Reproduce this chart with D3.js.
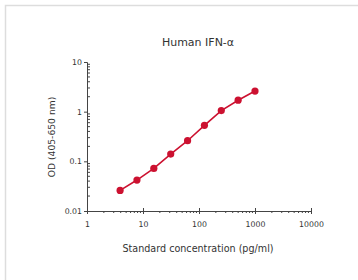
<!DOCTYPE html>
<html>
<head>
<meta charset="utf-8">
<script src="https://cdn.jsdelivr.net/npm/d3@7"></script>
<style>
  body { margin: 0; background: #fff; }
  svg text { font-family: "DejaVu Sans", Verdana, sans-serif; fill: #333; }
</style>
</head>
<body>
<div id="chart"></div>
<script>
// Standard curve data
const concentrations = [3.9, 7.8, 15.6, 31.25, 62.5, 125, 250, 500, 1000];
const odValues = [0.026, 0.042, 0.072, 0.14, 0.26, 0.53, 1.05, 1.7, 2.6];
const xTickValues = [1, 10, 100, 1000, 10000];
const yTickValues = [0.01, 0.1, 1, 10];
const yTickLabels = ['0.01', '0.1', '1', '10'];

const width = 358, height = 280;
const margin = { left: 87, right: 47, top: 62, bottom: 69 };

const svg = d3.select('#chart')
    .append('svg')
    .attr('width', width)
    .attr('height', height);

// Light frame round the picture
svg.append('rect')
    .attr('x', 5.5).attr('y', 5.5)
    .attr('width', width - 2).attr('height', height - 4)
    .attr('fill', 'none')
    .attr('stroke', '#ddd')
    .attr('stroke-width', 1.5);

const x = d3.scaleLog().domain([1, 10000]).range([margin.left, width - margin.right]);
const y = d3.scaleLog().domain([0.01, 10]).range([height - margin.bottom, margin.top]);

const axisColor = '#444';

// Minor ticks
const xMinor = [];
for (let d = 1; d < 10000; d *= 10)
    for (let k = 2; k <= 9; k++) xMinor.push(d * k);
const yMinor = [];
for (let d = 0.01; d < 9; d *= 10)
    for (let k = 2; k <= 9; k++) yMinor.push(d * k);

// X axis
const xAxis = svg.append('g')
    .attr('transform', `translate(0,${y(0.01)})`)
    .call(d3.axisBottom(x).tickValues(xTickValues).tickFormat(d3.format('d')).tickSize(3).tickPadding(7));
xAxis.selectAll('.tick line').attr('y1', -3);
xAxis.selectAll('g.minor')
    .data(xMinor)
    .enter()
    .append('line')
    .attr('x1', d => x(d)).attr('x2', d => x(d))
    .attr('y1', 0).attr('y2', 2)
    .attr('stroke', axisColor);

// Y axis
const yAxis = svg.append('g')
    .attr('transform', `translate(${x(1)},0)`)
    .call(d3.axisLeft(y).tickValues(yTickValues).tickFormat((d, i) => yTickLabels[i]).tickSize(3).tickPadding(2));
yAxis.selectAll('g.minor')
    .data(yMinor)
    .enter()
    .append('line')
    .attr('y1', d => y(d)).attr('y2', d => y(d))
    .attr('x1', 0).attr('x2', 3)
    .attr('stroke', axisColor);

[xAxis, yAxis].forEach(a => {
    a.select('.domain').attr('stroke', axisColor);
    a.selectAll('.tick line').attr('stroke', axisColor);
    a.selectAll('text').attr('font-size', 7.8).style('fill', '#333');
});

// Curve
const line = d3.line()
    .x((d, i) => x(concentrations[i]))
    .y(d => y(d));

svg.append('path')
    .datum(odValues)
    .attr('d', line)
    .attr('fill', 'none')
    .attr('stroke', '#cc1130')
    .attr('stroke-width', 1.6);

svg.append('g')
    .selectAll('circle')
    .data(odValues)
    .enter()
    .append('circle')
    .attr('cx', (d, i) => x(concentrations[i]))
    .attr('cy', d => y(d))
    .attr('r', 3.6)
    .attr('fill', '#cc1130');

// Titles
svg.append('text')
    .attr('x', 198).attr('y', 46)
    .attr('text-anchor', 'middle')
    .attr('font-size', 11)
    .text('Human IFN-α');

svg.append('text')
    .attr('x', 198).attr('y', 252)
    .attr('text-anchor', 'middle')
    .attr('font-size', 9.6)
    .text('Standard concentration (pg/ml)');

svg.append('text')
    .attr('transform', 'translate(55,137) rotate(-90)')
    .attr('text-anchor', 'middle')
    .attr('font-size', 9.2)
    .text('OD (405-650 nm)');
</script>
</body>
</html>
